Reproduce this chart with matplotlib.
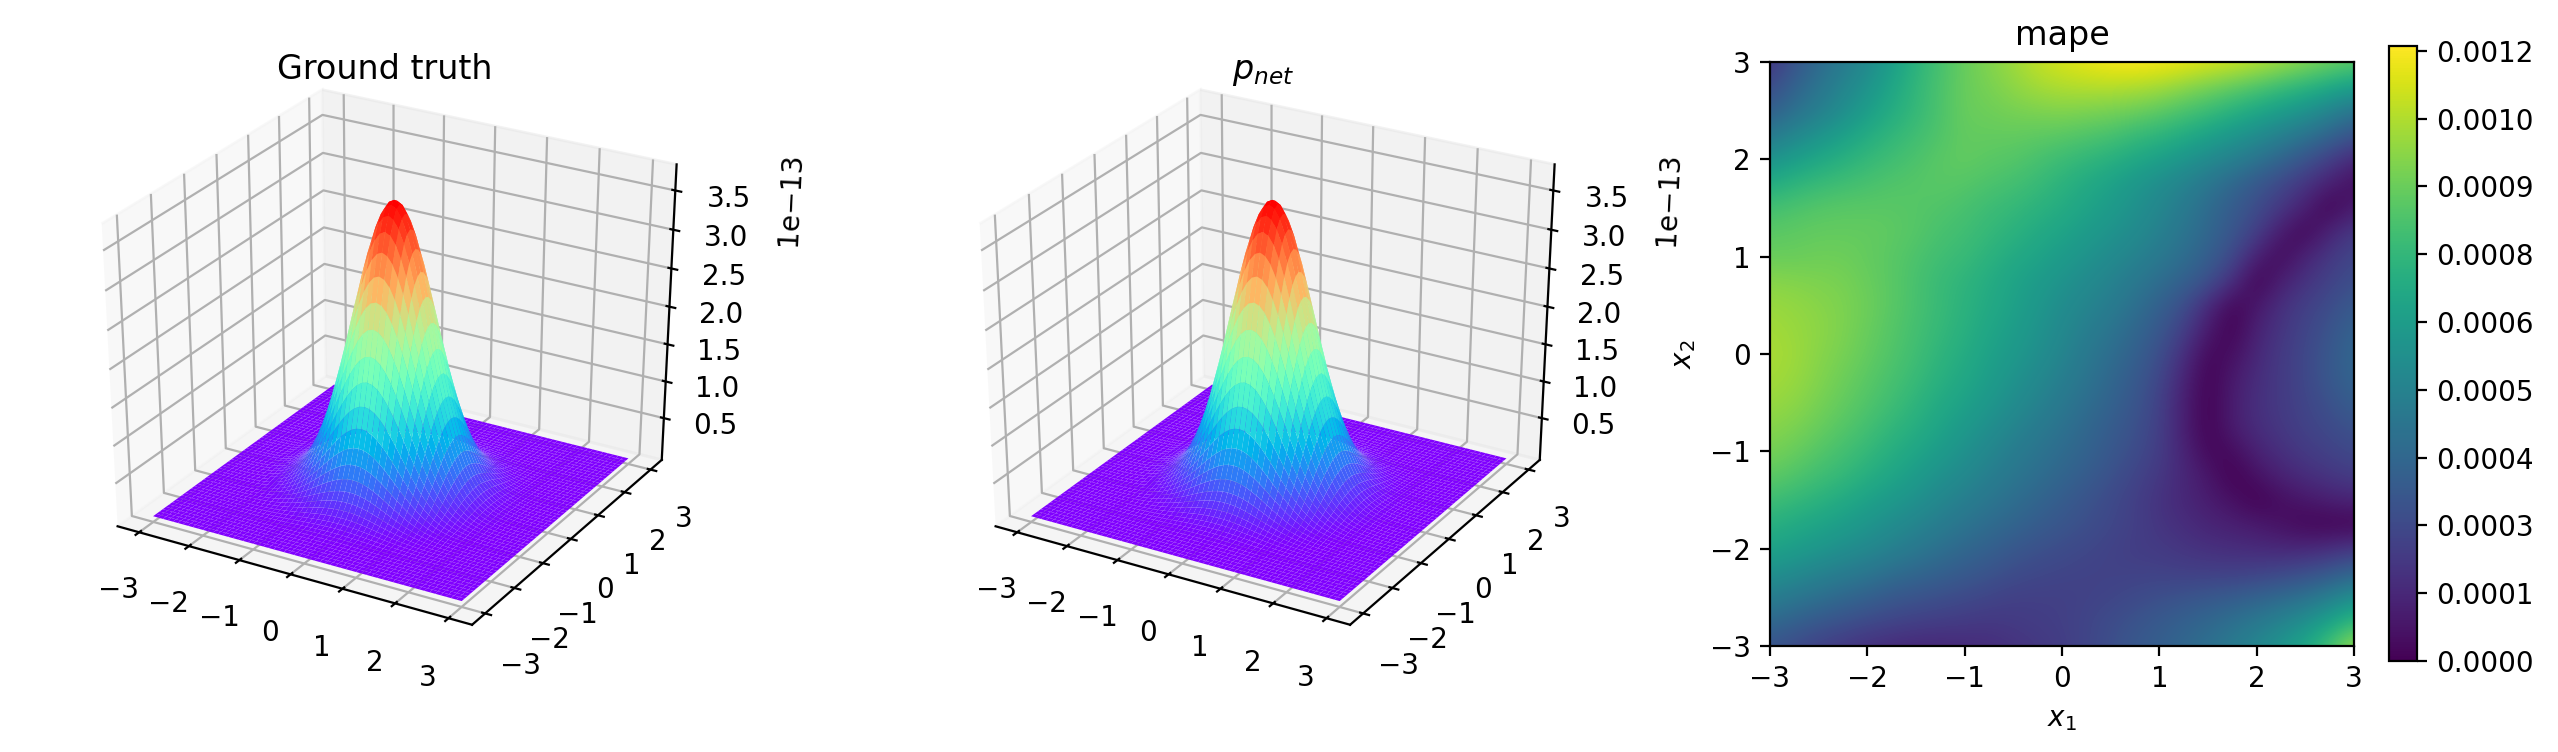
import numpy as np
from matplotlib import pyplot as plt

W, H = 2558, 752

# height of the peak read along one slice through the centre, as a fraction of the top.
# the surfaces are rebuilt from this slice as outer product, too many cells to type them all
x_grid = [-3.0, -2.9, -2.8, -2.7, -2.6, -2.5, -2.4, -2.3, -2.2, -2.1, -2.0, -1.9, -1.8, -1.7, -1.6,
          -1.5, -1.4, -1.3, -1.2, -1.1, -1.0, -0.9, -0.8, -0.7, -0.6, -0.5, -0.4, -0.3, -0.2, -0.1, 0.0,
          0.1, 0.2, 0.3, 0.4, 0.5, 0.6, 0.7, 0.8, 0.9, 1.0, 1.1, 1.2, 1.3, 1.4,
          1.5, 1.6, 1.7, 1.8, 1.9, 2.0, 2.1, 2.2, 2.3, 2.4, 2.5, 2.6, 2.7, 2.8, 2.9, 3.0]
slice_vals = [0.0, 0.0, 0.0, 0.001, 0.001, 0.002, 0.003, 0.005, 0.008, 0.012, 0.018, 0.027, 0.039, 0.056, 0.077,
              0.105, 0.141, 0.185, 0.237, 0.298, 0.368, 0.445, 0.527, 0.613, 0.698, 0.779, 0.852, 0.914, 0.961, 0.99, 1.0,
              0.99, 0.961, 0.914, 0.852, 0.779, 0.698, 0.613, 0.527, 0.445, 0.368, 0.298, 0.237, 0.185, 0.141,
              0.105, 0.077, 0.056, 0.039, 0.027, 0.018, 0.012, 0.008, 0.005, 0.003, 0.002, 0.001, 0.001, 0.0, 0.0, 0.0]
peak_true = 3.75e-13
peak_net = 3.75e-13
ztick_vals = [0.5e-13, 1e-13, 1.5e-13, 2e-13, 2.5e-13, 3e-13, 3.5e-13]

# mape in units of 1e-4, rows from x2=3 down to x2=-3, columns x1=-3..3, step 0.25
mape_rows = [
    [1.8, 3.0, 4.0, 4.8, 5.5, 6.5, 7.5, 8.3, 9.0, 9.5, 10.0, 10.6, 11.0, 11.3, 11.6, 11.7, 11.6, 11.4, 11.1, 10.9, 10.5, 10.1, 9.6, 9.2, 8.8],
    [2.6, 3.7, 4.5, 5.3, 6.0, 6.9, 7.7, 8.4, 9.0, 9.3, 9.7, 10.1, 10.3, 10.4, 10.4, 10.3, 10.1, 9.7, 9.3, 8.9, 8.5, 8.0, 7.6, 7.1, 6.6],
    [3.5, 4.3, 5.0, 5.7, 6.5, 7.2, 7.8, 8.4, 9.0, 9.1, 9.3, 9.4, 9.5, 9.4, 9.3, 9.1, 8.8, 8.4, 8.0, 7.5, 7.0, 6.5, 6.0, 5.3, 4.5],
    [4.7, 5.4, 6.0, 6.6, 7.2, 7.7, 8.1, 8.5, 8.9, 8.9, 8.9, 8.8, 8.7, 8.5, 8.3, 7.9, 7.6, 7.2, 6.7, 6.2, 5.7, 5.1, 4.5, 3.8, 3.0],
    [6.0, 6.5, 7.0, 7.4, 7.8, 8.1, 8.4, 8.7, 8.9, 8.7, 8.6, 8.3, 8.0, 7.7, 7.4, 7.0, 6.6, 6.1, 5.6, 5.1, 4.5, 3.8, 3.0, 2.2, 1.3],
    [7.2, 7.6, 7.9, 8.1, 8.3, 8.5, 8.6, 8.7, 8.6, 8.4, 8.2, 7.9, 7.5, 7.1, 6.7, 6.2, 5.7, 5.2, 4.6, 3.9, 3.2, 2.5, 1.8, 1.0, 0.4],
    [8.2, 8.4, 8.6, 8.7, 8.7, 8.7, 8.6, 8.5, 8.3, 8.0, 7.8, 7.5, 7.2, 6.8, 6.4, 5.9, 5.4, 4.8, 4.1, 3.4, 2.7, 1.9, 1.0, 0.0, 0.9],
    [8.7, 8.8, 8.9, 8.9, 8.9, 8.8, 8.6, 8.3, 8.1, 7.8, 7.5, 7.1, 6.8, 6.4, 6.0, 5.6, 5.1, 4.5, 3.9, 3.1, 2.2, 0.8, 0.1, 1.2, 2.0],
    [9.0, 9.0, 9.1, 9.1, 8.9, 8.7, 8.4, 8.1, 7.9, 7.5, 7.1, 6.8, 6.4, 6.0, 5.6, 5.2, 4.7, 4.2, 3.5, 2.6, 1.0, 0.2, 1.2, 1.9, 2.5],
    [9.6, 9.5, 9.4, 9.3, 9.0, 8.7, 8.3, 7.9, 7.6, 7.2, 6.8, 6.4, 6.0, 5.6, 5.2, 4.7, 4.2, 3.6, 2.9, 1.6, 0.0, 1.0, 1.7, 2.3, 2.8],
    [9.9, 9.8, 9.6, 9.4, 9.1, 8.7, 8.3, 7.9, 7.5, 7.1, 6.7, 6.2, 5.7, 5.3, 4.9, 4.3, 3.6, 2.8, 1.4, 0.1, 0.7, 1.6, 2.2, 2.7, 3.3],
    [10.1, 9.9, 9.7, 9.4, 9.0, 8.6, 8.2, 7.8, 7.4, 6.9, 6.5, 6.0, 5.5, 5.0, 4.5, 3.9, 3.2, 2.2, 0.8, 0.0, 1.1, 1.8, 2.4, 3.0, 3.7],
    [10.2, 10.0, 9.6, 9.3, 8.9, 8.5, 8.1, 7.6, 7.2, 6.7, 6.3, 5.8, 5.3, 4.7, 4.2, 3.6, 2.8, 1.6, 0.2, 0.4, 1.3, 2.0, 2.5, 3.2, 3.9],
    [10.1, 9.9, 9.5, 9.1, 8.7, 8.3, 7.9, 7.4, 7.0, 6.5, 6.0, 5.5, 5.0, 4.5, 3.9, 3.3, 2.5, 1.2, 0.0, 0.8, 1.5, 2.0, 2.5, 3.2, 3.8],
    [9.9, 9.7, 9.3, 8.9, 8.5, 8.1, 7.6, 7.1, 6.7, 6.2, 5.7, 5.2, 4.7, 4.2, 3.7, 3.1, 2.3, 1.0, 0.0, 0.9, 1.6, 2.0, 2.4, 2.9, 3.5],
    [9.6, 9.4, 9.0, 8.6, 8.2, 7.7, 7.3, 6.8, 6.3, 5.8, 5.3, 4.8, 4.4, 3.9, 3.4, 2.9, 2.2, 1.0, 0.0, 0.9, 1.5, 1.9, 2.3, 2.6, 3.0],
    [9.3, 9.0, 8.6, 8.2, 7.8, 7.3, 6.9, 6.4, 5.9, 5.4, 4.9, 4.5, 4.1, 3.7, 3.2, 2.7, 2.1, 1.2, 0.2, 0.3, 1.1, 1.6, 2.0, 2.3, 2.6],
    [8.8, 8.5, 8.1, 7.8, 7.3, 6.9, 6.4, 5.9, 5.5, 5.0, 4.6, 4.2, 3.8, 3.4, 2.9, 2.4, 1.9, 1.3, 0.7, 0.0, 0.5, 1.1, 1.5, 1.8, 2.1],
    [8.1, 7.8, 7.5, 7.1, 6.7, 6.3, 5.9, 5.4, 5.0, 4.6, 4.2, 3.8, 3.4, 3.0, 2.6, 2.2, 1.7, 1.3, 0.9, 0.5, 0.0, 0.4, 0.7, 1.0, 1.2],
    [7.4, 7.1, 6.8, 6.5, 6.1, 5.7, 5.3, 4.9, 4.5, 4.1, 3.8, 3.4, 3.1, 2.8, 2.5, 2.2, 1.8, 1.5, 1.2, 1.0, 0.8, 0.5, 0.15, 0.05, 0.05],
    [6.8, 6.5, 6.2, 5.8, 5.5, 5.1, 4.7, 4.3, 3.9, 3.6, 3.2, 2.9, 2.7, 2.5, 2.3, 2.1, 2.0, 1.8, 1.6, 1.5, 1.4, 1.3, 1.3, 1.5, 1.9],
    [5.9, 5.6, 5.2, 4.9, 4.6, 4.2, 3.9, 3.6, 3.3, 3.0, 2.7, 2.5, 2.4, 2.3, 2.3, 2.3, 2.3, 2.2, 2.2, 2.2, 2.3, 2.5, 2.8, 3.2, 3.8],
    [5.0, 4.6, 4.3, 3.9, 3.6, 3.2, 3.0, 2.8, 2.6, 2.4, 2.2, 2.2, 2.2, 2.3, 2.4, 2.6, 2.8, 3.0, 3.2, 3.4, 3.7, 4.0, 4.4, 5.0, 5.8],
    [4.0, 3.6, 3.2, 2.9, 2.6, 2.4, 2.2, 2.1, 2.0, 1.9, 2.0, 2.1, 2.2, 2.4, 2.7, 3.0, 3.3, 3.6, 3.9, 4.3, 4.7, 5.2, 5.8, 6.7, 7.8],
    [3.0, 2.6, 2.2, 1.9, 1.6, 1.4, 1.3, 1.3, 1.4, 1.5, 1.7, 1.9, 2.1, 2.4, 2.8, 3.2, 3.5, 3.9, 4.3, 4.8, 5.4, 6.1, 7.0, 8.3, 10.0],
]
cbar_ticks = [0.0, 0.000129, 0.000258, 0.000387, 0.000516, 0.000645, 0.000774, 0.000903, 0.001032, 0.001161]
cbar_labels = ['0.0000', '0.0001', '0.0003', '0.0004', '0.0005', '0.0006', '0.0008', '0.0009', '0.0010', '0.0012']
mape_max = 0.00117


def px_box(x0, y0, x1, y1):
    # pixel box, y from the top of the picture
    return [x0 / W, 1 - y1 / H, (x1 - x0) / W, (y1 - y0) / H]


def surface(box, peak, title):
    ax = fig.add_axes(px_box(*box), projection='3d')
    # the reference cube is stretched to a wide box, mplot3d would force it square
    ax.apply_aspect = lambda position=None: None
    x, y = np.meshgrid(x_grid, x_grid)
    s = np.array(slice_vals)
    z = peak * np.outer(s, s)
    ax.plot_surface(x, y, z, cmap='rainbow', rstride=1, cstride=1)
    ax.set_box_aspect((1, 1, 1))
    ax.set_xticks([-3, -2, -1, 0, 1, 2, 3])
    ax.set_yticks([-3, -2, -1, 0, 1, 2, 3])
    ax.set_zticks(ztick_vals)
    ax.set_title(title, y=1.03)
    return ax


fig = plt.figure(figsize=(W / 200, H / 200), dpi=200)

surface((41, 65, 729, 645), peak_true, 'Ground truth')
surface((919, 65, 1607, 645), peak_net, '$p_{net}$')

ax3 = fig.add_axes(px_box(1770, 62, 2354, 646))
mape = np.array(mape_rows) * 1e-4
im = ax3.imshow(mape, cmap='viridis', vmin=0, vmax=mape_max, extent=(-3.125, 3.125, -3.125, 3.125),
                interpolation='bicubic', aspect='auto')
ax3.set_xlim(-3, 3)
ax3.set_ylim(-3, 3)
ax3.set_xticks([-3, -2, -1, 0, 1, 2, 3])
ax3.set_yticks([-3, -2, -1, 0, 1, 2, 3])
ax3.set_xlabel('$x_1$')
ax3.set_ylabel('$x_2$')
ax3.set_title('mape')

cax = fig.add_axes(px_box(2389, 46, 2417, 661))
cb = fig.colorbar(im, cax=cax)
cb.set_ticks(cbar_ticks)
cb.set_ticklabels(cbar_labels)

fig.savefig('out.png', dpi=200)
